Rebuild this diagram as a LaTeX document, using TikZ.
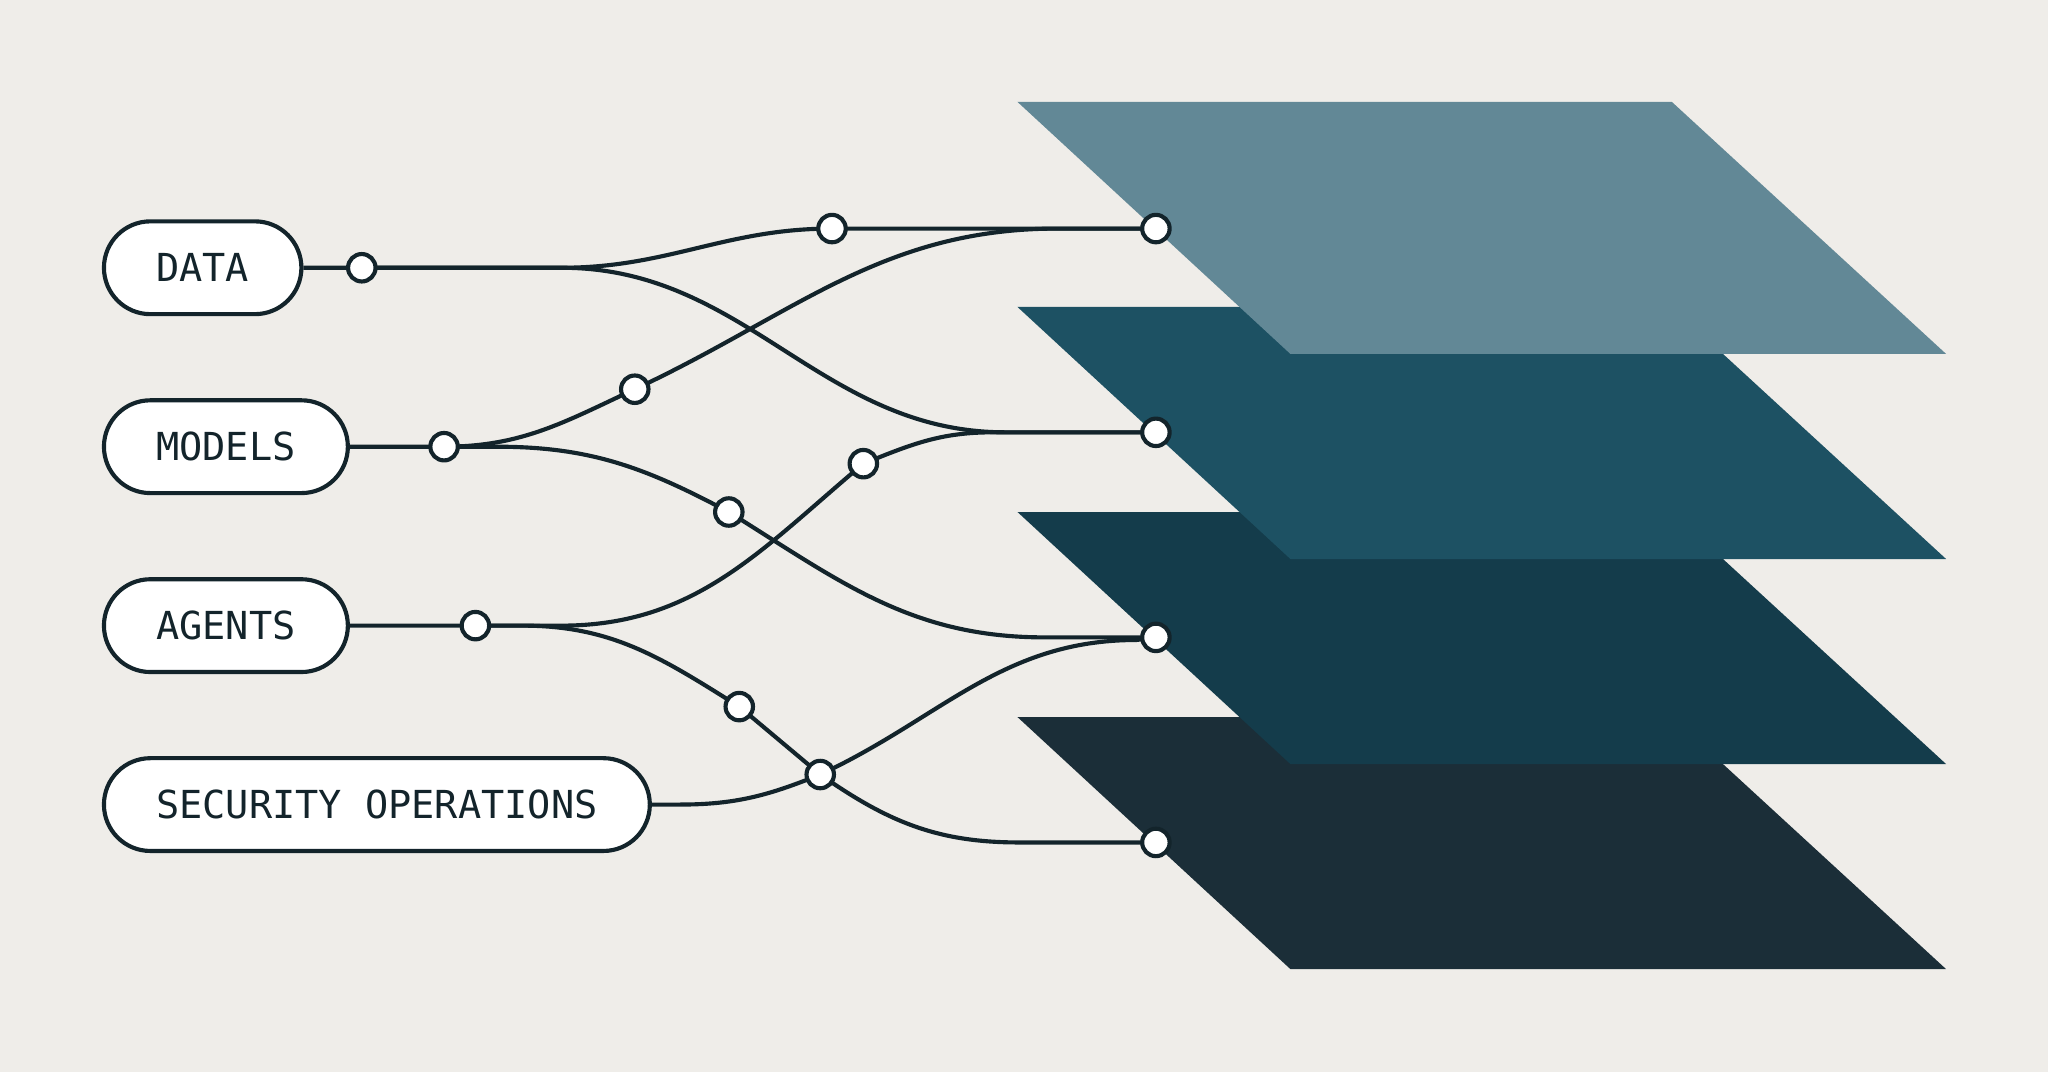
\documentclass[tikz,border=0pt]{standalone}
\usepackage{fontspec}
\setmonofont{DejaVu Sans Mono}
\usetikzlibrary{positioning}
\definecolor{bgcol}{HTML}{EFEDE9}
\definecolor{ink}{HTML}{13242B}
\definecolor{layerA}{HTML}{628896}
\definecolor{layerB}{HTML}{1D5163}
\definecolor{layerC}{HTML}{143C4B}
\definecolor{layerD}{HTML}{1B2E38}
\tikzstyle{pill} = [rectangle, rounded corners=0.355cm, minimum height=0.71cm, inner xsep=0.4cm, anchor=west, draw=ink, line width=0.9pt, fill=white, text=ink, font=\ttfamily\fontsize{8.4pt}{10pt}\selectfont]
\tikzstyle{dot} = [circle, draw=ink, fill=white, line width=0.9pt, minimum size=0.21cm, inner sep=0pt]
\tikzstyle{wire} = [draw=ink, line width=0.9pt]

\begin{document}
\begin{tikzpicture}[x=0.01cm, y=-0.01cm]

\fill[bgcol] (0,0) rectangle (1568,821);
\useasboundingbox (0,0) rectangle (1568,821);

% Layers
\fill[layerD] (779,549) -- (1280,549) -- (1490,742) -- (988,742) -- cycle;
\fill[layerC] (779,392) -- (1280,392) -- (1490,585) -- (988,585) -- cycle;
\fill[layerB] (779,235) -- (1280,235) -- (1490,428) -- (988,428) -- cycle;
\fill[layerA] (779,78) -- (1280,78) -- (1490,271) -- (988,271) -- cycle;

% Nodes
\node (data) [pill] at (78,205) {DATA};
\node (models) [pill] at (78,342) {MODELS};
\node (agents) [pill] at (78,479) {AGENTS};
\node (secops) [pill] at (78,616) {SECURITY OPERATIONS};

\coordinate (dj) at (277,205);
\coordinate (mj) at (340,342);
\coordinate (aj) at (364,479);
\coordinate (l1) at (885,175);
\coordinate (l2) at (885,331);
\coordinate (l3) at (885,488);
\coordinate (l4) at (885,645);

\coordinate (dm) at (637,175);
\coordinate (mm) at (486,298);
\coordinate (mn) at (558,392);
\coordinate (am) at (661,355);
\coordinate (an) at (566,541);
\coordinate (cx) at (628,593);

% Wires
\draw [wire] (data) -- (dj) -- (430,205) to[out=0,in=180] (dm) -- (l1);
\draw [wire] (dj) -- (430,205) to[out=0,in=180] (770,331) -- (l2);
\draw [wire] (models) -- (mj) to[out=0,in=-155] (mm) to[out=25,in=180] (810,175) -- (l1);
\draw [wire] (mj) -- (380,342) to[out=0,in=152] (mn) to[out=-32,in=180] (800,488) -- (l3);
\draw [wire] (agents) -- (aj) -- (430,479) to[out=0,in=-140] (am) to[out=22,in=180] (760,331) -- (l2);
\draw [wire] (aj) -- (400,479) to[out=0,in=148] (an) -- (cx) to[out=-35,in=180] (780,645) -- (l4);
\draw [wire] (secops) -- (520,616) to[out=0,in=-158] (cx) to[out=25,in=180] (870,490) -- (l3);

% Dots
\foreach \p in {dj,mj,aj,l1,l2,l3,l4,dm,mm,mn,am,an,cx}
  \node [dot] at (\p) {};

\end{tikzpicture}
\end{document}
